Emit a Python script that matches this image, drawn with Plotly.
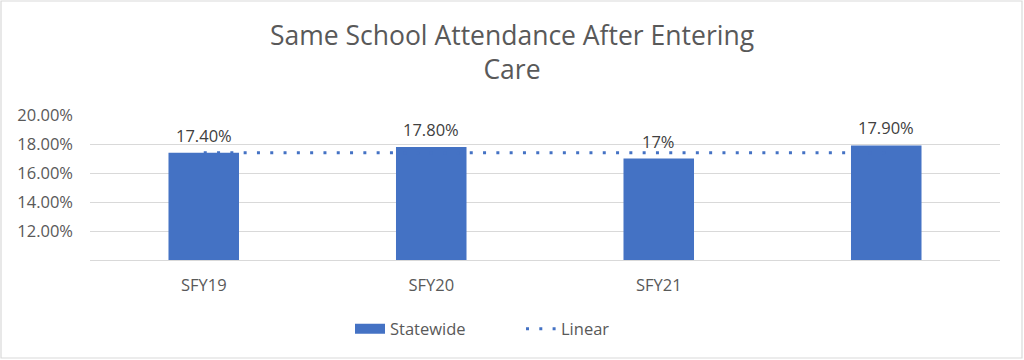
import plotly.graph_objects as go

categories = ["SFY19", "SFY20", "SFY21", ""]
statewide = [17.4, 17.8, 17.0, 17.9]
value_labels = ["17.40%", "17.80%", "17%", "17.90%"]
trend_x = [0, 3]
trend_values = [17.4, 17.4]
y_ticks = [12, 14, 16, 18, 20]
y_tick_labels = ["12.00%", "14.00%", "16.00%", "18.00%", "20.00%"]

W, H = 1024, 360
ML, MR, MT, MB = 90, 24, 115, 100
PW, PH = W - ML - MR, H - MT - MB
BLUE = "#4472C4"
GRID = "#d9d9d9"
TXT = "#595959"
FONT = "Open Sans"
DOTS = "3px,10.3px"


def px_x(p):
    return (p - ML) / PW


def px_y(p):
    return (MT + PH - p) / PH


x_pos = list(range(len(categories)))

fig = go.Figure()
fig.add_trace(go.Bar(
    x=x_pos, y=statewide, width=0.31, base=0,
    marker=dict(color=BLUE, line=dict(width=0)),
    name="Statewide", showlegend=False,
))
fig.add_trace(go.Scatter(
    x=trend_x, y=trend_values, mode="lines", name="Linear",
    line=dict(color=BLUE, width=3, dash=DOTS), showlegend=False,
))
# legend entries
fig.add_trace(go.Scatter(x=[None], y=[None], mode="lines", name="Statewide",
                         line=dict(color=BLUE, width=10)))
fig.add_trace(go.Scatter(x=[None], y=[None], mode="lines", name="Linear",
                         line=dict(color=BLUE, width=3, dash=DOTS)))

for xi, v, t in zip(x_pos, statewide, value_labels):
    fig.add_annotation(x=xi, y=v, text=t, showarrow=False, yanchor="bottom",
                       yshift=4, font=dict(family=FONT, size=16.5, color="#404040"))

fig.add_shape(type="rect", xref="paper", yref="paper",
              x0=px_x(1), x1=px_x(1022), y0=px_y(358), y1=px_y(1),
              line=dict(color=GRID, width=1.2), layer="below")

fig.update_layout(
    width=W, height=H,
    margin=dict(l=ML, r=MR, t=MT, b=MB),
    paper_bgcolor="white", plot_bgcolor="white",
    font=dict(family=FONT, color=TXT, size=15),
    title=dict(text="Same School Attendance After Entering<br>Care",
               x=0.5, xanchor="center", xref="container",
               y=1 - 45 / H, yanchor="middle",
               font=dict(family=FONT, size=26.5, color=TXT)),
    xaxis=dict(range=[-0.5, 3.5], tickvals=x_pos, ticktext=categories,
               showgrid=False, zeroline=False, showline=True, linecolor=GRID,
               linewidth=1, ticks="", ticklabelstandoff=10,
               tickfont=dict(family=FONT, size=16.5, color=TXT)),
    yaxis=dict(range=[10, 20], tickvals=y_ticks, ticktext=y_tick_labels,
               showgrid=True, gridcolor=GRID, gridwidth=1, zeroline=False,
               showline=False, ticks="", ticklabelstandoff=16,
               tickfont=dict(family=FONT, size=16.5, color=TXT)),
    legend=dict(orientation="h", x=px_x(350), xanchor="left",
                y=px_y(329), yanchor="middle",
                font=dict(family=FONT, size=16.5, color=TXT),
                entrywidth=126, entrywidthmode="pixels", traceorder="normal"),
    showlegend=True,
)

fig.write_html("out.html", config={"displayModeBar": False},
               post_script="document.body.style.margin='0';")
